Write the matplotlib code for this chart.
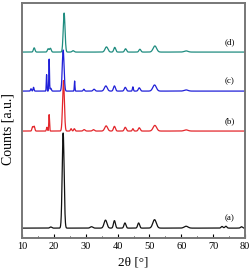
"""XRD patterns (a)-(d), stacked with vertical offsets."""
import numpy as np
import matplotlib.pyplot as plt

plt.rcParams['font.family'] = ['Liberation Serif', 'DejaVu Serif']

# offsets of each pattern (arb. units, axis 0..1000)
offsets = [42, 455, 625, 791]
labels = ['(a)', '(b)', '(c)', '(d)']
colors = ['#111111', '#e3262b', '#2020d8', '#1f8c80']

# peak tables: position [deg], height [a.u.], half-width [deg]
peaks_a_pos = [19.0, 22.9, 31.8, 36.2, 39.0, 42.3, 46.6, 51.6, 61.5, 72.8, 74.0, 78.9]
peaks_a_h = [5, 405, 6, 34, 32, 22, 22, 36, 8, 7, 8, 6]
peaks_a_w = [0.3, 0.3, 0.4, 0.45, 0.3, 0.3, 0.3, 0.55, 0.6, 0.3, 0.3, 0.3]

peaks_b_pos = [13.3, 13.8, 17.8, 18.5, 23.0, 25.4, 26.4, 29.5, 32.4, 36.4, 39.0, 42.4, 44.8, 46.8, 51.7, 61.5]
peaks_b_h = [18, 20, 16, 70, 215, 10, 10, 6, 6, 22, 20, 16, 10, 14, 24, 5]
peaks_b_w = [0.2, 0.2, 0.15, 0.12, 0.28, 0.2, 0.2, 0.3, 0.3, 0.45, 0.3, 0.3, 0.2, 0.3, 0.55, 0.6]

peaks_c_pos = [12.8, 13.6, 17.7, 18.5, 19.0, 22.9, 26.5, 29.4, 32.6, 36.3, 39.0, 42.4, 44.8, 46.8, 51.6, 61.5]
peaks_c_h = [10, 16, 70, 136, 12, 175, 43, 8, 8, 22, 22, 16, 18, 14, 26, 5]
peaks_c_w = [0.15, 0.15, 0.1, 0.1, 0.2, 0.28, 0.1, 0.2, 0.3, 0.45, 0.3, 0.3, 0.15, 0.3, 0.55, 0.6]

peaks_d_pos = [13.8, 18.2, 18.9, 23.2, 26.0, 36.5, 39.1, 42.5, 47.0, 51.7, 61.5]
peaks_d_h = [18, 14, 16, 166, 6, 22, 20, 14, 12, 26, 5]
peaks_d_w = [0.25, 0.25, 0.25, 0.28, 0.3, 0.45, 0.3, 0.3, 0.3, 0.55, 0.6]

peak_tables = [
    (peaks_a_pos, peaks_a_h, peaks_a_w),
    (peaks_b_pos, peaks_b_h, peaks_b_w),
    (peaks_c_pos, peaks_c_h, peaks_c_w),
    (peaks_d_pos, peaks_d_h, peaks_d_w),
]


def pattern(two_theta, pos, height, width):
    """Sum of Gaussian peaks from a peak table."""
    y = np.zeros_like(two_theta)
    for p, h, w in zip(pos, height, width):
        y += h * np.exp(-0.5 * ((two_theta - p) / w) ** 2)
    return y


two_theta = np.linspace(10, 80, 2000)

fig = plt.figure(figsize=(2.51, 2.68), dpi=100)
ax = fig.add_axes([0.088, 0.112, 0.888, 0.877])

for (pos, h, w), off, col, lab in zip(peak_tables, offsets, colors, labels):
    ax.plot(two_theta, off + pattern(two_theta, pos, h, w), color=col, lw=0.9)
    ax.text(75.3, off + 42, lab, fontsize=6.5, ha='center', va='center')

ax.set_xlim(10, 80)
ax.set_ylim(0, 1000)
ax.set_xticks(range(10, 81, 10))
ax.set_xticks(range(15, 80, 10), minor=True)
ax.set_yticks([])
ax.tick_params(axis='x', direction='in', labelsize=7.5, length=3, width=0.8, pad=3)
ax.tick_params(axis='x', which='minor', direction='in', length=1.5, width=0.6)
for s in ax.spines.values():
    s.set_color('#777777')
    s.set_linewidth(1.4)
ax.set_xlabel('2θ [°]', fontsize=9.5)
ax.xaxis.set_label_coords(0.5, -0.078)
ax.set_ylabel('Counts [a.u.]', fontsize=10, va='center')
ax.yaxis.set_label_coords(-0.064, 0.464)

fig.savefig('out.png', dpi=100)
